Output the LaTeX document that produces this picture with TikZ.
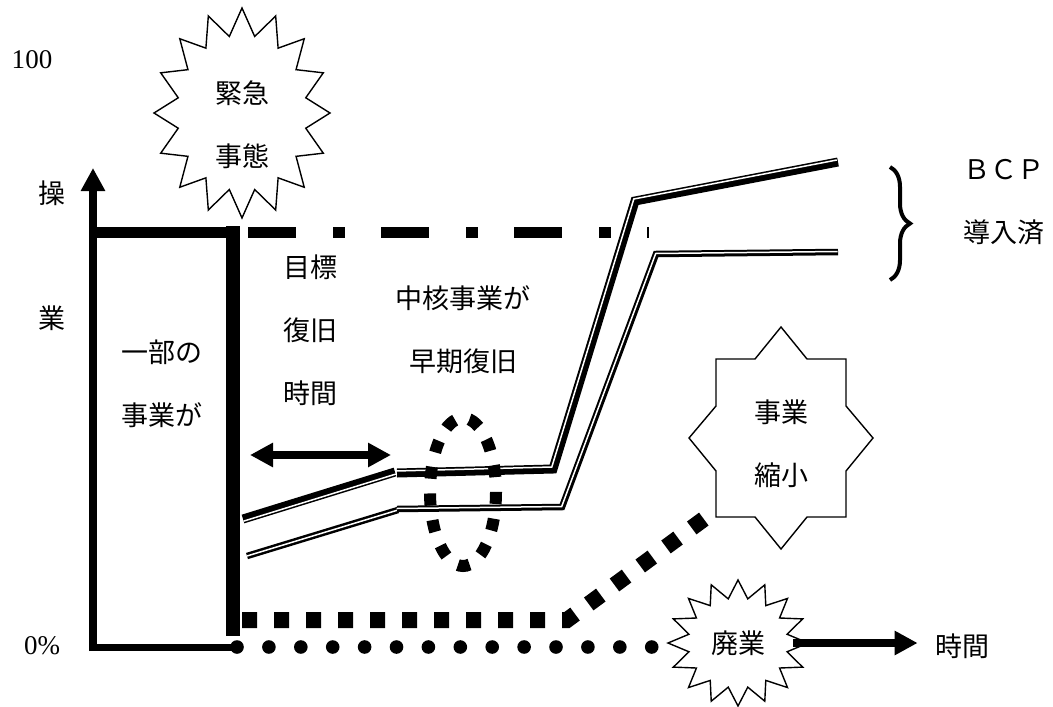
\documentclass[tikz,border=0pt]{standalone}
\usepackage{fontspec}
\setmainfont{Liberation Serif}
\newfontfamily\jp{Noto Sans CJK JP}
\usetikzlibrary{arrows.meta,decorations.pathreplacing}
\begin{document}
\begin{tikzpicture}[x=0.5pt,y=-0.5pt,line join=miter,>={Triangle[length=11.5pt,width=11.5pt]}]
	\tikzset{every node/.style={font=\jp\fontsize{13.5}{31.5}\selectfont,align=center,inner sep=2pt},
		burst/.style={draw,fill=white,line width=0.7pt},
		latin/.style={font=\rmfamily\fontsize{13.5}{16}\selectfont}}
	\useasboundingbox (0,0) rectangle (1053,706);
	\begin{scope}
		\draw[line width=4.5pt] (243,519)--(395,472);
		\draw[white,line width=0.75pt,transform canvas={shift={(0.7,2.1)}}] (243,519)--(395,472);
		\draw[line width=4.5pt] (397,473)--(553,469)--(635,201)--(838,162);
		\draw[white,line width=0.75pt,transform canvas={shift={(-1.2,-2)}}] (397,473)--(553,469)--(635,201)--(838,162);
		\draw[line width=3.25pt] (247,556)--(398,510);
		\draw[white,line width=0.75pt] (247,556)--(398,510);
		\draw[line width=3.25pt] (397,509)--(562,507)--(656,254)--(838,252);
		\draw[white,line width=0.75pt,transform canvas={shift={(-0.3,-0.5)}}] (397,509)--(562,507)--(656,254)--(838,252);
	\end{scope}
	\draw[line width=6pt,dash pattern=on 6pt off 7.4pt] (463,492) ellipse (33 and 74);
	\draw[line width=4pt,->] (93,651)--(93,168);
	\draw[line width=3.5pt] (91,647)--(237,647);
	\draw[line width=5.5pt] (91,232)--(240,232);
	\draw[line width=7pt] (233,226)--(233,636);
	\draw[line width=5.5pt,dash pattern=on 24pt off 18.5pt on 6pt off 18pt] (248,232)--(649,232);
	\draw[line width=4pt,<->] (250,455)--(391,455);
	\draw[line width=8pt,dash pattern=on 7.5pt off 8.5pt] (242,620)--(567,620)--(712,513);
	\foreach \i in {0,...,13} \fill (237+\i*31.9,647) circle (3.4pt);
	\draw[line width=2pt,decorate,decoration={brace,amplitude=10pt}] (890,167)--(890,280);
	\draw[burst,shift={(242,113)}] plot[samples=33,domain=0:32,variable=\i] ({ifthenelse(mod(round(\i),2)==0,88,65)*sin(\i*11.25)},{-ifthenelse(mod(round(\i),2)==0,105,78)*cos(\i*11.25)})--cycle;
	\draw[burst,shift={(738,643)}] plot[samples=33,domain=0:32,variable=\i] ({ifthenelse(mod(round(\i),2)==0,70,50)*sin(\i*11.25)},{-ifthenelse(mod(round(\i),2)==0,63,45)*cos(\i*11.25)})--cycle;
	\draw[burst,shift={(781,438)}] (0,-111)--(26,-79)--(65,-79)--(65,-32)--(92,0)--(65,33)--(65,79)--(26,79)--(0,111)--(-26,79)--(-65,79)--(-65,33)--(-92,0)--(-65,-32)--(-65,-79)--(-26,-79)--cycle;
	\node[latin] (hyaku) at (32,60) {100};
	\node[latin] (zero) at (42,646) {0\%};
	\node (sou) at (52,193) {操};
	\node (gyo) at (52,318) {業};
	\node (kinkyu) at (242,125) {緊急\\事態};
	\node (ichibu) at (162,384) {一部の\\事業が};
	\node (mokuhyo) at (310,330) {目標\\復旧\\時間};
	\node (chukaku) at (463,330) {中核事業が\\早期復旧};
	\node (shukusho) at (781,444) {事業\\縮小};
	\node (bcp) at (1004,202) {ＢＣＰ\\導入済};
	\node (haigyo) at (738,643) {廃業};
	\node (jikan) at (962,646) {時間};
	\draw[line width=4pt,->,shorten >=6.5pt] ([xshift=12pt]haigyo.east)--(haigyo.east-|jikan.west);
\end{tikzpicture}
\end{document}
